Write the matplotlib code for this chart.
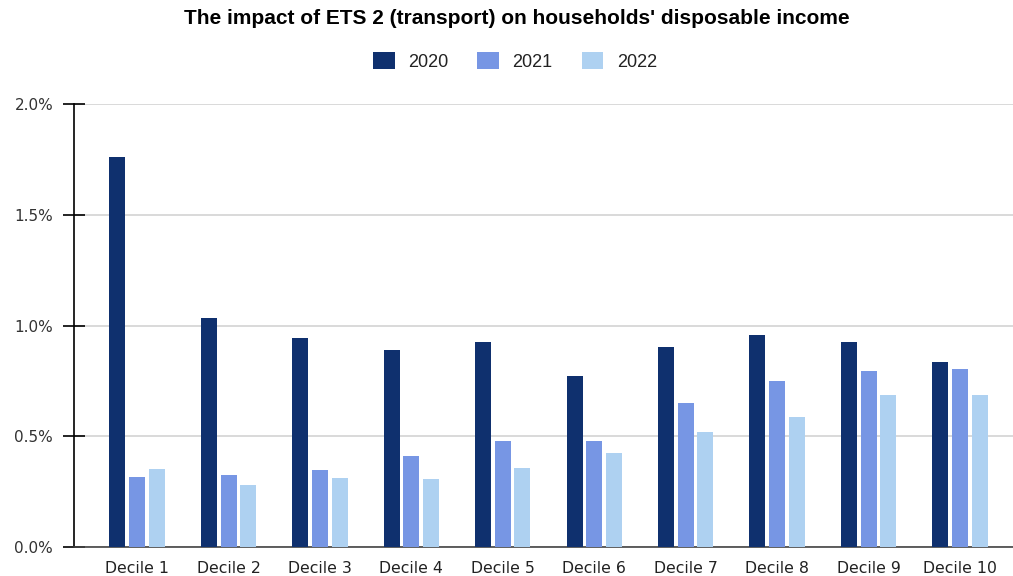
import matplotlib
matplotlib.use("Agg")
import matplotlib.pyplot as plt
import numpy as np

categories = ["Decile 1", "Decile 2", "Decile 3", "Decile 4", "Decile 5",
              "Decile 6", "Decile 7", "Decile 8", "Decile 9", "Decile 10"]
series_names = ["2020", "2021", "2022"]
values_2020 = [1.763, 1.036, 0.944, 0.890, 0.927, 0.772, 0.905, 0.959, 0.927, 0.836]
values_2021 = [0.318, 0.325, 0.349, 0.411, 0.479, 0.479, 0.649, 0.751, 0.796, 0.804]
values_2022 = [0.351, 0.279, 0.310, 0.309, 0.355, 0.426, 0.518, 0.587, 0.688, 0.688]
y_ticks = [0.0, 0.5, 1.0, 1.5, 2.0]
y_tick_labels = ["0.0%", "0.5%", "1.0%", "1.5%", "2.0%"]
colors = ["#0F306E", "#7796E4", "#AED1F1"]

plt.rcParams['font.family'] = ['Liberation Sans', 'DejaVu Sans']

fig = plt.figure(figsize=(10.13, 5.76), dpi=100)
ax = fig.add_axes([74/1013, 1 - 547/576, 1 - 74/1013, (547 - 104.3)/576])

x = np.arange(len(categories))
step = 0.215
width = 0.175
for i, (name, vals) in enumerate(zip(series_names, [values_2020, values_2021, values_2022])):
    ax.bar(x + (i - 1) * step, vals, width=width, color=colors[i], label=name, zorder=3)

ax.set_xlim(-0.69, 9.58)
ax.set_ylim(0, 2.0)
ax.set_yticks(y_ticks)
ax.set_yticklabels(y_tick_labels, fontsize=11, color="#333333", family=['DejaVu Sans'])
ax.set_xticks(x)
ax.set_xticklabels(categories, fontsize=11.3, color="#222222", family=['DejaVu Sans'])
ax.tick_params(axis='x', length=0, pad=10)
ax.tick_params(axis='y', direction='inout', length=16, width=1.2, color='black', pad=7)
ax.yaxis.grid(True, color="#D3D3D3", linewidth=1.2, zorder=0)
ax.set_axisbelow(True)
for s in ['top', 'right']:
    ax.spines[s].set_visible(False)
ax.spines['left'].set_color('black')
ax.spines['left'].set_linewidth(1.2)
ax.spines['bottom'].set_color('#444444')
ax.spines['bottom'].set_linewidth(1.2)

fig.text(517/1013, 1 - 19/576, "The impact of ETS 2 (transport) on households' disposable income",
         ha='center', va='center', fontsize=15, fontweight='bold', color='black')
fig.legend(loc='center', bbox_to_anchor=(515/1013, 1 - 61.5/576), ncol=3, frameon=False,
           fontsize=13, handlelength=1.2, handleheight=1.1, columnspacing=1.6,
           handletextpad=0.75, labelcolor="#222222")

fig.savefig("out.png", dpi=100)
